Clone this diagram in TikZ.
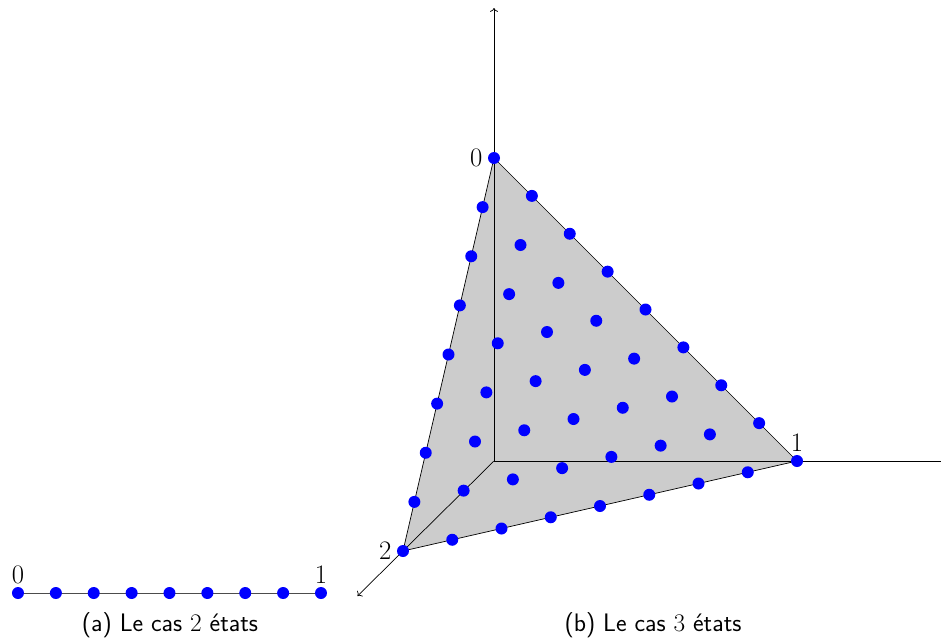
\documentclass[tikz,border=0pt]{standalone}
\usetikzlibrary{arrows.meta, calc}

\begin{document}
\begin{tikzpicture}[
    >=To,
    axis/.style={->, line width=0.5pt},
    simplex/.style={draw=black, fill=black!20, line width=0.5pt, line join=round},
    pt/.style={fill=blue},
    vlabel/.style={font=\rmfamily\fontsize{19}{23}\selectfont, inner sep=2pt},
    caption/.style={font=\sffamily\fontsize{18}{21}\selectfont}
]
    \useasboundingbox (-12.35,-4.4) rectangle (11.175,11.525);

    % (a) two states
    \coordinate (a0) at (-11.9,-3.3);
    \coordinate (a1) at (-4.325,-3.3);
    \draw[line width=0.5pt, black!70] (a0) -- (a1);
    \foreach \i in {0,...,8}
        \fill[pt] ($(a0)!\i/8!(a1)$) circle (0.15);
    \node[vlabel, above=4.4pt] (la0) at (a0) {0};
    \node[vlabel, above=4.4pt] (la1) at (a1) {1};
    \node[caption] (capa) at (-8.1,-4.1) {(a) Le cas {\rmfamily 2} états};

    % (b) three states
    \begin{scope}[x={(7.575cm,0cm)}, y={(0cm,7.575cm)}, z={(-2.275cm,-2.25cm)}]
        \coordinate (O) at (0,0,0);
        \coordinate (v0) at (0,1,0);
        \coordinate (v1) at (1,0,0);
        \coordinate (v2) at (0,0,1);
        \coordinate (xend) at (1.475,0,0);
        \coordinate (yend) at (0,1.495,0);
        \coordinate (zend) at (0,0,1.5);
        \filldraw[simplex] (v0) -- (v1) -- (v2) -- cycle;
        \draw[line width=0.5pt] (O) -- (xend);
        \draw[axis] (O) -- (yend);
        \draw[axis] (O) -- (zend);
        \foreach \i in {0,...,8} {
            \pgfmathtruncatemacro{\jmax}{8-\i}
            \foreach \j in {0,...,\jmax} {
                \pgfmathtruncatemacro{\k}{8-\i-\j}
                \fill[pt] (\i/8,\j/8,\k/8) circle (0.15cm);
            }
        }
        \node[vlabel, left=6pt] (lb0) at (v0) {0};
        \node[vlabel, above=4.4pt] (lb1) at (v1) {1};
        \node[vlabel, left=6pt] (lb2) at (v2) {2};
    \end{scope}
    \node[caption] (capb) at (3.975,-4.1) {(b) Le cas {\rmfamily 3} états};
\end{tikzpicture}
\end{document}
